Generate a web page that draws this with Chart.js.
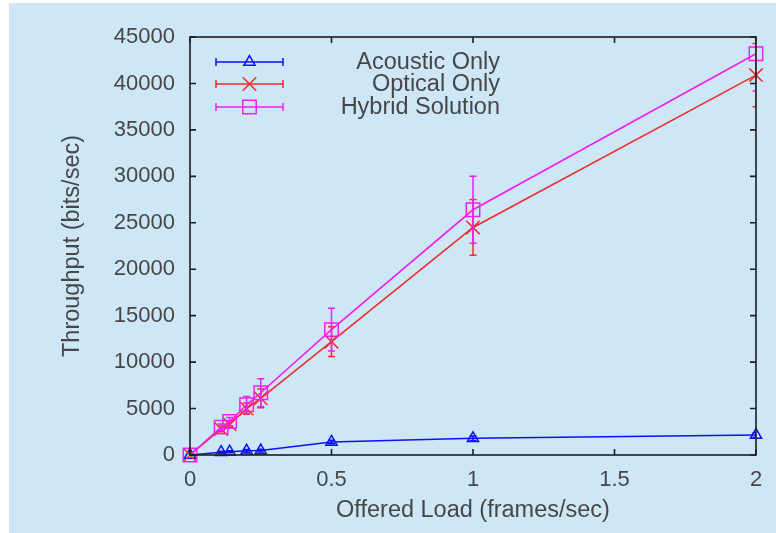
<!DOCTYPE html>
<html>
<head>
<meta charset="utf-8">
<script src="https://cdn.jsdelivr.net/npm/chart.js@4/dist/chart.umd.min.js"></script>
<style>
  html, body { margin: 0; padding: 0; background: #fff; }
  #wrap { width: 776px; height: 533px; }
</style>
</head>
<body>
<div id="wrap"><canvas id="chart" width="776" height="533"></canvas></div>
<script>
// offered load (frames/sec) and measured throughput (bits/sec)
const loads = [0, 0.11, 0.14, 0.2, 0.25, 0.5, 1, 2];
const acoustic = [0, 300, 350, 450, 480, 1400, 1800, 2150];
const acousticErr = [0, 100, 100, 150, 150, 200, 250, 250];
const optical = [0, 2800, 3300, 5000, 6100, 12200, 24500, 40900];
const opticalErr = [0, 300, 400, 600, 1000, 1600, 3000, 3400];
const hybrid = [0, 3000, 3600, 5400, 6700, 13500, 26400, 43200];
const hybridErr = [0, 350, 450, 900, 1500, 2300, 3600, 4000];
const seriesNames = ["Acoustic Only", "Optical Only", "Hybrid Solution"];
const xTicks = [0, 0.5, 1, 1.5, 2];
const yTicks = [0, 5000, 10000, 15000, 20000, 25000, 30000, 35000, 40000, 45000];

const FONT = "Liberation Sans";
const TEXT = "#474747";
const AXIS = "#1e1e1e";
const colors = ["#1010f8", "#f02c2c", "#f020f0"];
const styles = ["triangle", "crossRot", "rect"];
const radii = [6.5, 9.5, 9.5];
const errs = [acousticErr, opticalErr, hybridErr];

function series(vals) {
  return loads.map((x, i) => ({ x: x, y: vals[i] }));
}

// panel background
const panelBg = {
  id: "panelBg",
  beforeDraw(chart) {
    const ctx = chart.ctx;
    ctx.save();
    ctx.fillStyle = "#ffffff";
    ctx.fillRect(0, 0, chart.width, chart.height);
    ctx.fillStyle = "#cde7f6";
    ctx.fillRect(9, 3, chart.width - 9, chart.height - 3);
    ctx.restore();
  }
};

// vertical error bars for each dataset, drawn just after its line
const errorBars = {
  id: "errorBars",
  afterDatasetDraw(chart, args) {
    const i = args.index;
    const ds = chart.data.datasets[i];
    const err = errs[i];
    const xs = chart.scales.x, ys = chart.scales.y;
    const a = chart.chartArea;
    const ctx = chart.ctx;
    ctx.save();
    ctx.beginPath();
    ctx.rect(a.left, a.top - 1, a.right - a.left, a.bottom - a.top + 2);
    ctx.clip();
    ctx.strokeStyle = ds.borderColor;
    ctx.lineWidth = 1.5;
    ds.data.forEach((p, k) => {
      if (!err[k]) return;
      const px = xs.getPixelForValue(p.x);
      const lo = ys.getPixelForValue(p.y - err[k]);
      const hi = ys.getPixelForValue(p.y + err[k]);
      ctx.beginPath();
      ctx.moveTo(px, lo); ctx.lineTo(px, hi);
      ctx.moveTo(px - 3.5, lo); ctx.lineTo(px + 3.5, lo);
      ctx.moveTo(px - 3.5, hi); ctx.lineTo(px + 3.5, hi);
      ctx.stroke();
    });
    ctx.restore();
  }
};

// closed frame with inward ticks on all four sides, plus the key
const frame = {
  id: "frame",
  afterDraw(chart) {
    const a = chart.chartArea;
    const xs = chart.scales.x, ys = chart.scales.y;
    const ctx = chart.ctx;
    ctx.save();
    ctx.strokeStyle = AXIS;
    ctx.lineWidth = 1.6;
    ctx.strokeRect(a.left, a.top, a.right - a.left, a.bottom - a.top);
    ctx.beginPath();
    xTicks.forEach(v => {
      const px = xs.getPixelForValue(v);
      ctx.moveTo(px, a.bottom); ctx.lineTo(px, a.bottom - 6);
      ctx.moveTo(px, a.top); ctx.lineTo(px, a.top + 6);
    });
    yTicks.forEach(v => {
      const py = ys.getPixelForValue(v);
      ctx.moveTo(a.left, py); ctx.lineTo(a.left + 6, py);
      ctx.moveTo(a.right, py); ctx.lineTo(a.right - 6, py);
    });
    ctx.stroke();

    // key
    ctx.font = "23.5px '" + FONT + "'";
    ctx.textAlign = "right";
    ctx.textBaseline = "middle";
    const x0 = a.left + 26, x1 = a.left + 93, xm = (x0 + x1) / 2;
    [25, 47, 70].forEach((dy, i) => {
      const y = a.top + dy;
      ctx.strokeStyle = colors[i];
      ctx.fillStyle = "rgba(0,0,0,0)";
      ctx.lineWidth = 1.5;
      ctx.beginPath();
      ctx.moveTo(x0, y); ctx.lineTo(x1, y);
      ctx.moveTo(x0, y - 4); ctx.lineTo(x0, y + 4);
      ctx.moveTo(x1, y - 4); ctx.lineTo(x1, y + 4);
      ctx.stroke();
      Chart.helpers.drawPoint(ctx, {
        pointStyle: styles[i], radius: radii[i], rotation: 0, borderWidth: 1.5
      }, xm, y);
      ctx.fillStyle = TEXT;
      ctx.fillText(seriesNames[i], a.left + 310, y + 1);
    });
    ctx.restore();
  }
};

function dataset(i, vals, order) {
  return {
    label: seriesNames[i],
    data: series(vals),
    borderColor: colors[i],
    backgroundColor: "rgba(0,0,0,0)",
    borderWidth: 1.6,
    pointStyle: styles[i],
    pointRadius: radii[i],
    pointBorderWidth: 1.5,
    pointBorderColor: colors[i],
    pointBackgroundColor: "rgba(0,0,0,0)",
    tension: 0,
    clip: 8,
    order: order
  };
}

new Chart(document.getElementById("chart").getContext("2d"), {
  type: "line",
  data: {
    datasets: [
      dataset(0, acoustic, 2),
      dataset(1, optical, 1),
      dataset(2, hybrid, 0)
    ]
  },
  plugins: [panelBg, errorBars, frame],
  options: {
    responsive: false,
    animation: false,
    devicePixelRatio: 1,
    layout: { padding: { top: 37, right: 20, left: 0, bottom: 0 } },
    plugins: { legend: { display: false }, tooltip: { enabled: false } },
    scales: {
      x: {
        type: "linear",
        min: 0,
        max: 2,
        afterBuildTicks: s => { s.ticks = xTicks.map(v => ({ value: v })); },
        afterFit: s => { s.height = 78; },
        grid: { display: false, drawTicks: false },
        border: { display: false },
        ticks: {
          color: TEXT,
          padding: 12,
          font: { family: FONT, size: 22 },
          callback: v => String(v)
        },
        title: {
          display: true,
          text: "Offered Load (frames/sec)",
          color: TEXT,
          font: { family: FONT, size: 23.5 },
          padding: { top: 0, bottom: 8 }
        }
      },
      y: {
        min: 0,
        max: 45000,
        afterBuildTicks: s => { s.ticks = yTicks.map(v => ({ value: v })); },
        afterFit: s => { s.width = 190; },
        grid: { display: false, drawTicks: false },
        border: { display: false },
        ticks: {
          color: TEXT,
          padding: 15,
          font: { family: FONT, size: 22 },
          callback: v => String(v)
        },
        title: {
          display: true,
          text: "Throughput (bits/sec)",
          color: TEXT,
          font: { family: FONT, size: 23.5 },
          padding: { top: 58, bottom: 0 }
        }
      }
    }
  }
});
</script>
</body>
</html>
